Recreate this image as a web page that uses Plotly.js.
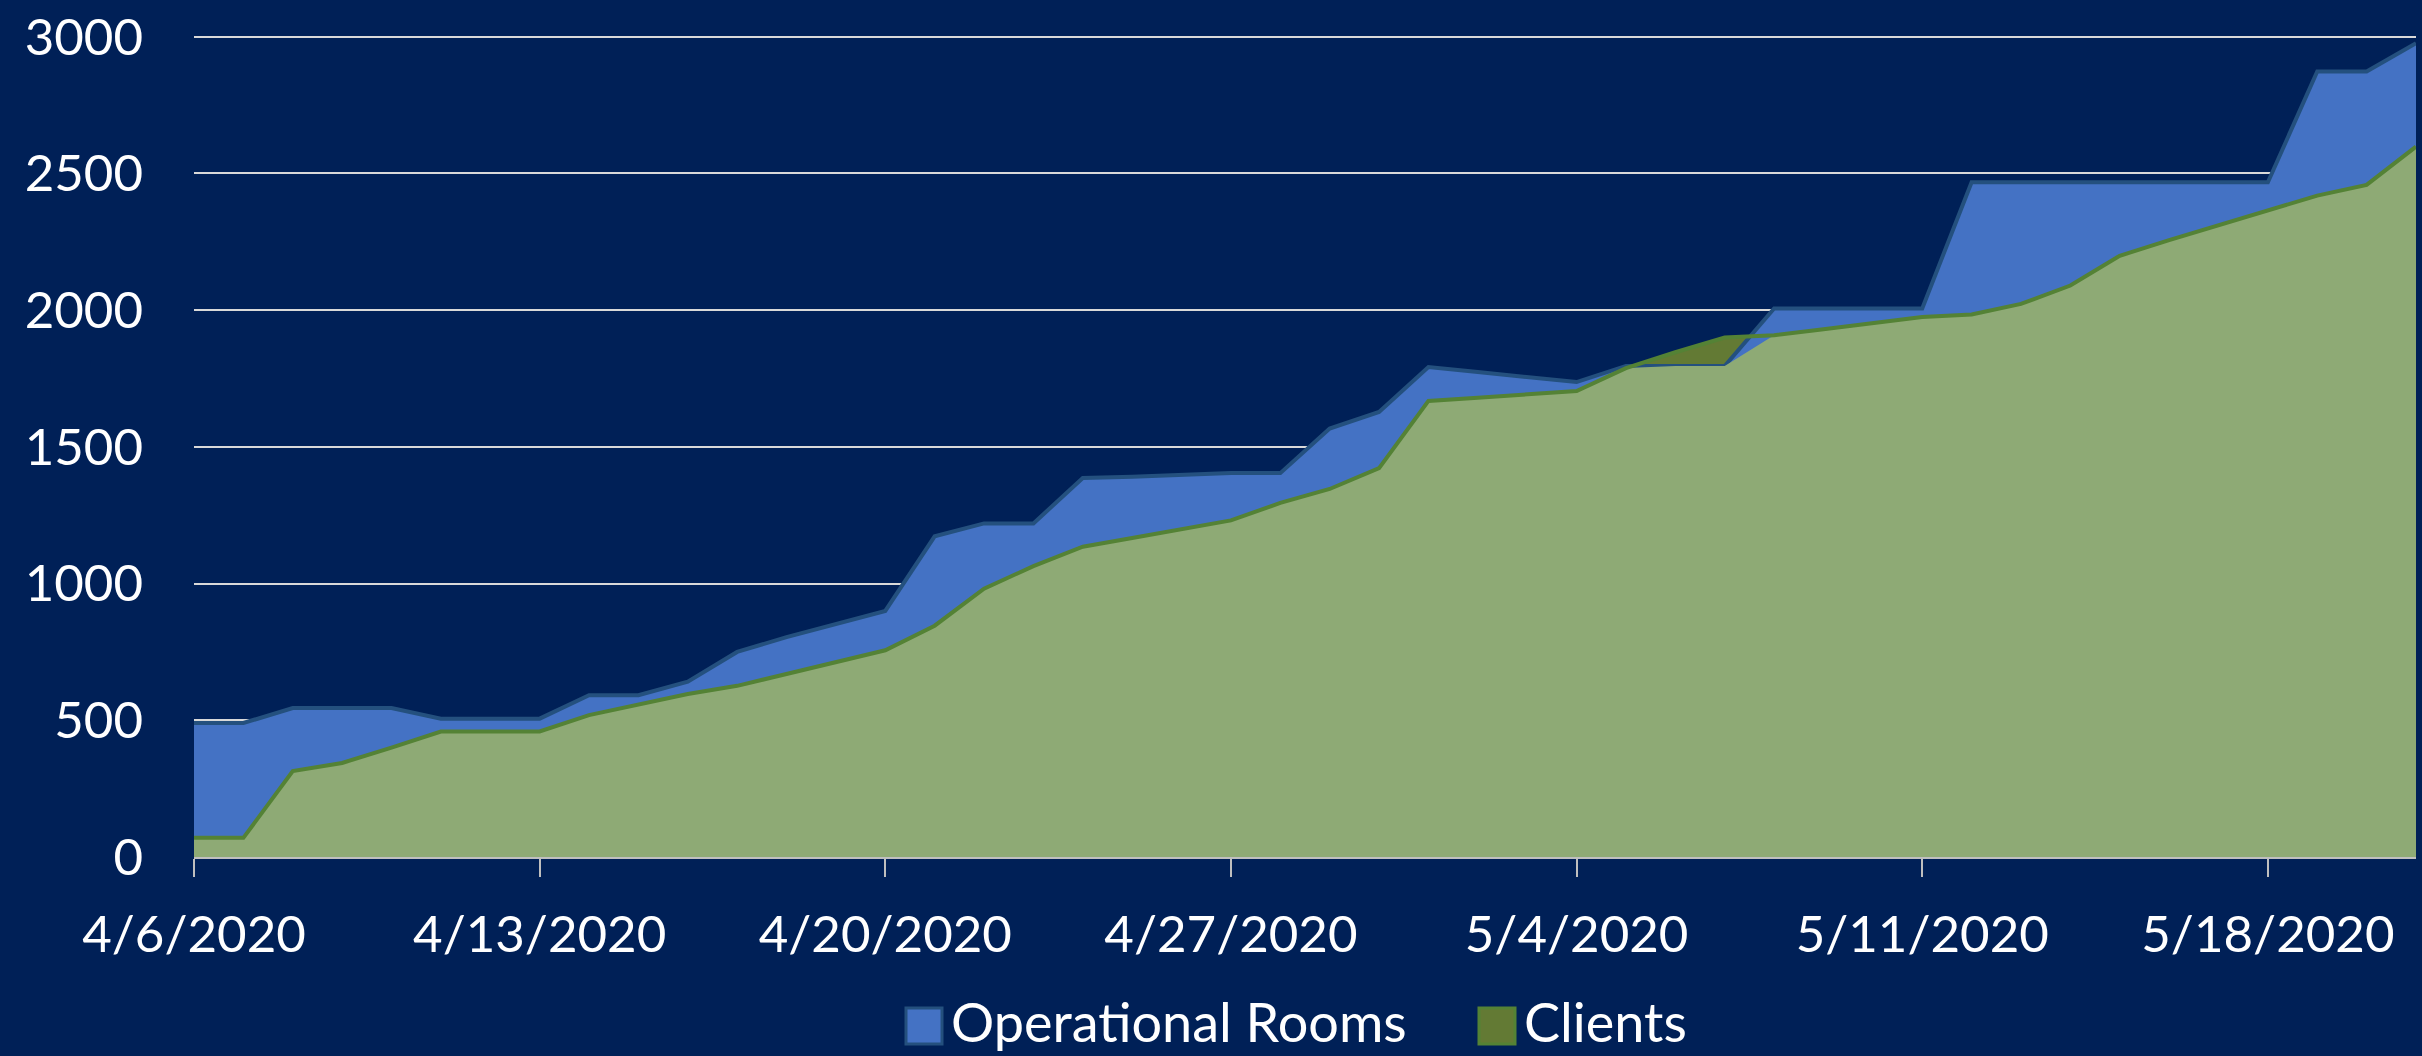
<!DOCTYPE html>
<html>
<head>
<meta charset="utf-8">
<script src="https://cdn.plot.ly/plotly-3.0.1.min.js"></script>
<style>
  html, body { margin: 0; padding: 0; background: #002057; }
  #chart { width: 2422px; height: 1056px; }
</style>
</head>
<body>
<div id="chart"></div>
<script>
// ---- data ----
const dates = [
  "2020-04-06","2020-04-07","2020-04-08","2020-04-09","2020-04-10","2020-04-11","2020-04-12",
  "2020-04-13","2020-04-14","2020-04-15","2020-04-16","2020-04-17","2020-04-18","2020-04-19",
  "2020-04-20","2020-04-21","2020-04-22","2020-04-23","2020-04-24","2020-04-25","2020-04-26",
  "2020-04-27","2020-04-28","2020-04-29","2020-04-30","2020-05-01","2020-05-02","2020-05-03",
  "2020-05-04","2020-05-05","2020-05-06","2020-05-07","2020-05-08","2020-05-09","2020-05-10",
  "2020-05-11","2020-05-12","2020-05-13","2020-05-14","2020-05-15","2020-05-16","2020-05-17",
  "2020-05-18","2020-05-19","2020-05-20","2020-05-21"
];
const operationalRooms = [
  490, 490, 545, 545, 545, 506, 506,
  506, 592, 592, 641, 750, 804, 853,
  900, 1173, 1220, 1220, 1386, 1391, 1397,
  1404, 1404, 1567, 1628, 1792, 1774, 1755,
  1737, 1796, 1796, 1796, 2006, 2006, 2006,
  2006, 2468, 2468, 2468, 2468, 2468, 2468,
  2468, 2873, 2873, 2976
];
const clients = [
  70, 70, 314, 344, 400, 459, 459,
  459, 519, 558, 596, 626, 669, 713,
  756, 846, 981, 1064, 1135, 1167, 1199,
  1231, 1295, 1346, 1422, 1668, 1680, 1692,
  1704, 1788, 1846, 1900, 1908, 1930, 1952,
  1975, 1984, 2023, 2090, 2199, 2256, 2311,
  2365, 2419, 2458, 2598
];
const tickDates  = ["2020-04-06","2020-04-13","2020-04-20","2020-04-27","2020-05-04","2020-05-11","2020-05-18"];
const tickLabels = ["4/6/2020","4/13/2020","4/20/2020","4/27/2020","5/4/2020","5/11/2020","5/18/2020"];
const yTicks = [0, 500, 1000, 1500, 2000, 2500, 3000];
const seriesNames = ["Operational Rooms", "Clients"];

// ---- styling ----
const BG = "#002057";
const BLUE = "#4472C4", BLUE_LINE = "#24507E";
const LIGHT_GREEN = "#8EAA75", OLIVE = "#637A34", GREEN_LINE = "#548235";
const FONT = "Lato, 'Open Sans', sans-serif";

// overlap of the two areas (where both series are present)
const overlap = clients.map((c, i) => Math.min(c, operationalRooms[i]));

const traces = [
  { // clients area shows dark olive where it rises above rooms
    x: dates, y: clients, type: "scatter", mode: "none",
    fill: "tozeroy", fillcolor: OLIVE, showlegend: false, hoverinfo: "skip"
  },
  {
    name: seriesNames[0], x: dates, y: operationalRooms, type: "scatter", mode: "lines",
    fill: "tozeroy", fillcolor: BLUE, line: { color: BLUE_LINE, width: 4 },
    showlegend: false, hoverinfo: "skip"
  },
  { // overlapping part of the clients area
    x: dates, y: overlap, type: "scatter", mode: "none",
    fill: "tozeroy", fillcolor: LIGHT_GREEN, showlegend: false, hoverinfo: "skip"
  },
  {
    name: seriesNames[1], x: dates, y: clients, type: "scatter", mode: "lines",
    line: { color: GREEN_LINE, width: 4 }, showlegend: false, hoverinfo: "skip"
  }
];

const W = 2422, H = 1056;
const M = { l: 194, r: 6, t: 34, b: 199 };
const pw = W - M.l - M.r, ph = H - M.t - M.b;
const px = (x) => (x - M.l) / pw;          // pixel -> paper x
const py = (y) => (H - M.b - y) / ph;      // pixel -> paper y

// custom legend (square swatches like the original)
const legendItems = [
  { name: seriesNames[0], fill: BLUE, line: BLUE_LINE, x0: 906 },
  { name: seriesNames[1], fill: OLIVE, line: GREEN_LINE, x0: 1479 }
];
const shapes = legendItems.map(it => ({
  type: "rect", xref: "paper", yref: "paper",
  x0: px(it.x0), x1: px(it.x0 + 36), y0: py(1044), y1: py(1008),
  fillcolor: it.fill, line: { color: it.line, width: 3 }, layer: "above"
}));
const annotations = legendItems.map(it => ({
  xref: "paper", yref: "paper", x: px(it.x0 + 44), y: py(1021),
  xanchor: "left", yanchor: "middle", showarrow: false, text: it.name,
  borderpad: 0,
  font: { family: FONT, size: 54, color: "#FFFFFF" }
}));

const layout = {
  width: W, height: H,
  margin: M,
  paper_bgcolor: BG, plot_bgcolor: BG,
  font: { family: FONT, size: 51, color: "#FFFFFF" },
  showlegend: false,
  xaxis: {
    type: "date",
    range: [dates[0], dates[dates.length - 1]],
    tickmode: "array", tickvals: tickDates, ticktext: tickLabels,
    ticks: "outside", ticklen: 18, tickwidth: 2, tickcolor: "#BFBFBF",
    ticklabelstandoff: 14,
    showgrid: false, zeroline: false,
    showline: true, linecolor: "#BFBFBF", linewidth: 2,
    tickfont: { family: FONT, size: 51, color: "#FFFFFF" },
    fixedrange: true
  },
  yaxis: {
    range: [0, 3010],
    tickmode: "array", tickvals: yTicks, ticktext: yTicks.map(String),
    ticks: "", ticklabelstandoff: 50,
    showgrid: true, gridcolor: "#D9D9D9", gridwidth: 2,
    zeroline: false, showline: false,
    tickfont: { family: FONT, size: 51, color: "#FFFFFF" },
    fixedrange: true
  },
  shapes: shapes,
  annotations: annotations
};

Plotly.newPlot("chart", traces, layout, { displayModeBar: false, staticPlot: true });
</script>
</body>
</html>
